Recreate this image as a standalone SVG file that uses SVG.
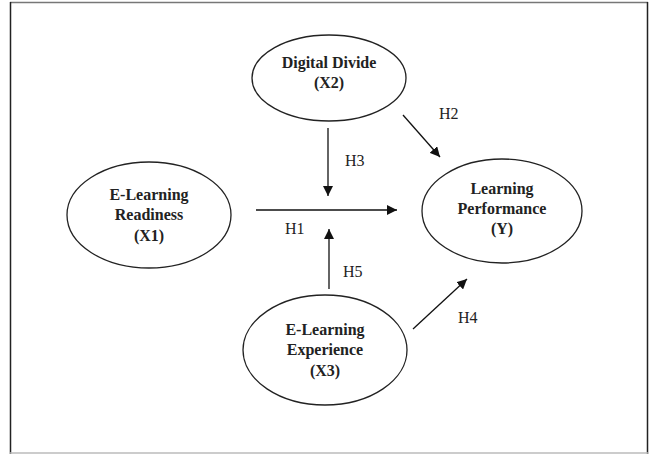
<svg xmlns="http://www.w3.org/2000/svg" width="649" height="454" viewBox="0 0 649 454">
<style>
.node ellipse{fill:#fff;stroke:#222;stroke-width:1.3}
.node text{font-family:'Liberation Serif','Times New Roman',serif;font-weight:bold;font-size:16px;fill:#222;text-anchor:middle}
.conn line{stroke:#111;stroke-width:1.3}
.lbl{font-family:'Liberation Serif','Times New Roman',serif;font-size:16px;fill:#222}
</style>
<defs>
<marker id="ah" viewBox="0 0 10 10" refX="10" refY="5" markerWidth="10" markerHeight="10" markerUnits="userSpaceOnUse" orient="auto">
<path d="M0,0 L10,5 L0,10 z" fill="#111"/>
</marker>
</defs>
<rect width="649" height="454" fill="#fff"/>
<g id="frame">
<line x1="10" y1="2.5" x2="648" y2="2.5" stroke="#777" stroke-width="1.5"/>
<line x1="10.5" y1="2" x2="10.5" y2="454" stroke="#222" stroke-width="1.5"/>
<line x1="647.5" y1="2" x2="647.5" y2="454" stroke="#222" stroke-width="1.5"/>
<line x1="10" y1="453" x2="648" y2="453" stroke="#bbb" stroke-width="1.5"/>
</g>
<g id="x2" class="node">
<ellipse cx="329" cy="78" rx="77" ry="43"/>
<text x="329" y="68">Digital Divide</text>
<text x="329" y="88">(X2)</text>
</g>
<g id="x1" class="node">
<ellipse cx="149" cy="215" rx="82" ry="53"/>
<text x="149" y="200">E-Learning</text>
<text x="149" y="220">Readiness</text>
<text x="149" y="241">(X1)</text>
</g>
<g id="y" class="node">
<ellipse cx="502" cy="211" rx="80" ry="52"/>
<text x="502" y="194">Learning</text>
<text x="502" y="214">Performance</text>
<text x="502" y="234">(Y)</text>
</g>
<g id="x3" class="node">
<ellipse cx="325" cy="350" rx="82" ry="55"/>
<text x="325" y="335">E-Learning</text>
<text x="325" y="355">Experience</text>
<text x="325" y="376">(X3)</text>
</g>
<g id="connectors" class="conn">
<line x1="256" y1="210" x2="397" y2="210" marker-end="url(#ah)"/>
<line x1="328" y1="128" x2="328" y2="196" marker-end="url(#ah)"/>
<line x1="329" y1="289" x2="329" y2="229" marker-end="url(#ah)"/>
<line x1="403" y1="115" x2="440" y2="157" marker-end="url(#ah)"/>
<line x1="413" y1="329" x2="467" y2="279" marker-end="url(#ah)"/>
</g>
<g id="labels">
<text class="lbl" x="285" y="234">H1</text>
<text class="lbl" x="439" y="119">H2</text>
<text class="lbl" x="345" y="166">H3</text>
<text class="lbl" x="458" y="323">H4</text>
<text class="lbl" x="343" y="277">H5</text>
</g>
</svg>
